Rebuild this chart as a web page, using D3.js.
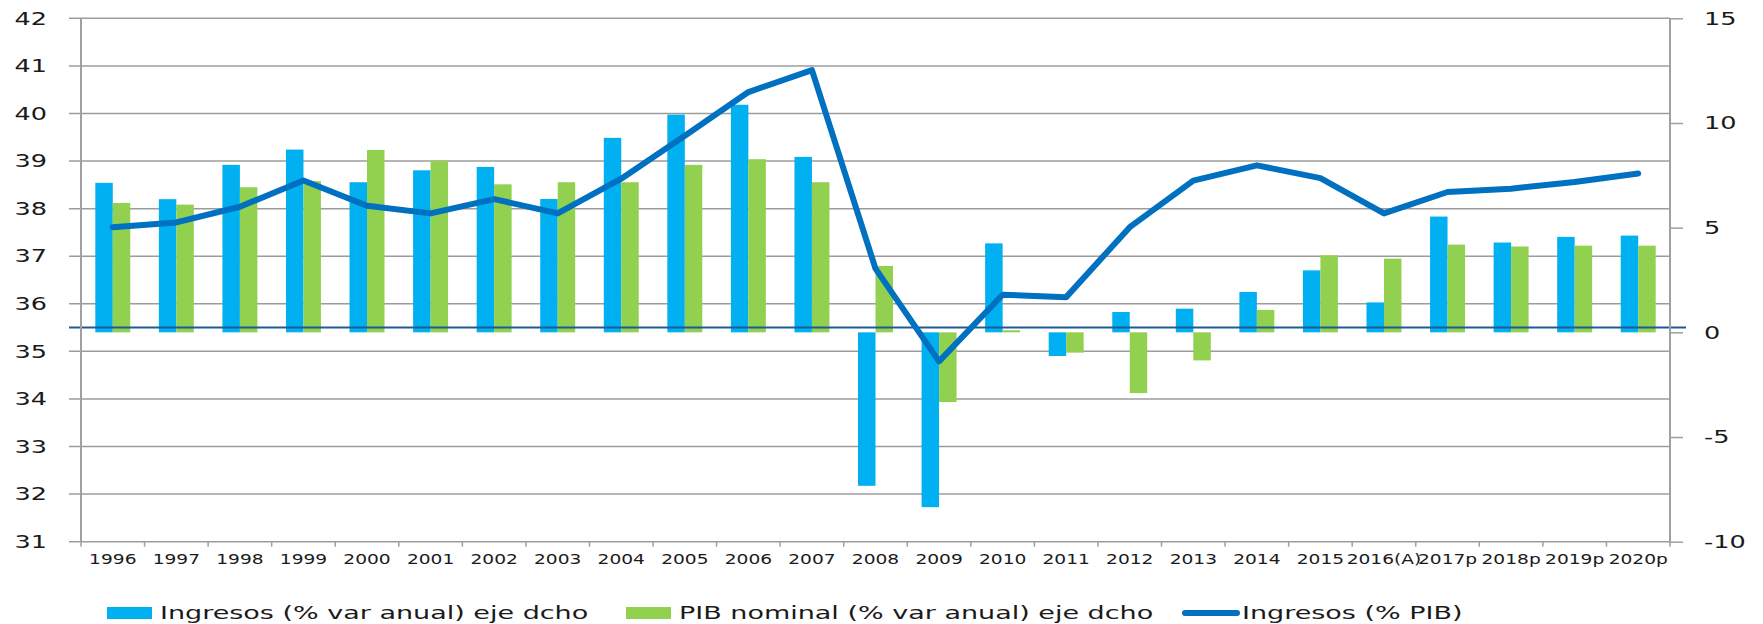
<!DOCTYPE html>
<head>
<meta charset="utf-8">
<style>
body{
    margin:0;
    background:#fff;
}
svg text{
    font-family:"DejaVu Sans", Verdana, sans-serif;
    fill:#1a1a1a;
}
</style>
<title>Ingresos y PIB nominal</title>
</head>
<body>
<svg id="chart" width="1763" height="624"></svg>
<script src="https://d3js.org/d3.v7.min.js"></script>
<script>
// categories on the x axis
var years = ['1996','1997','1998','1999','2000','2001','2002','2003','2004','2005',
    '2006','2007','2008','2009','2010','2011','2012','2013','2014','2015',
    '2016(A)','2017p','2018p','2019p','2020p'];

// Ingresos (% var anual) - right axis
var ingresosVar = [7.14, 6.36, 8.0, 8.73, 7.17, 7.74, 7.9, 6.37, 9.29, 10.4,
    10.87, 8.38, -7.33, -8.35, 4.25, -1.13, 0.97, 1.13, 1.93, 2.96,
    1.43, 5.53, 4.29, 4.56, 4.62];

// PIB nominal (% var anual) - right axis
var pibVar = [6.18, 6.1, 6.93, 7.22, 8.71, 8.2, 7.07, 7.17, 7.17, 8.0,
    8.27, 7.17, 3.17, -3.33, 0.1, -0.97, -2.9, -1.34, 1.07, 3.68,
    3.52, 4.19, 4.1, 4.14, 4.14];

// Ingresos (% PIB) - left axis
var ingresosPib = [37.61, 37.71, 38.04, 38.59, 38.06, 37.9, 38.2, 37.9, 38.63, 39.53,
    40.45, 40.91, 36.74, 34.79, 36.19, 36.14, 37.61, 38.59, 38.91, 38.64,
    37.9, 38.35, 38.42, 38.56, 38.74];

var leftTicks = [31,32,33,34,35,36,37,38,39,40,41,42];
var rightTicks = [-10,-5,0,5,10,15];
var legendNames = ['Ingresos (% var anual) eje dcho','PIB nominal (% var anual) eje dcho','Ingresos (% PIB)'];

var blue = '#00b0f0', green = '#92d050', lineBlue = '#0070c0';
var stretch = 1.42;   // the original text is drawn wide

var svg = d3.select('#chart');
var x0 = 81, x1 = 1670, yTop = 18.3, yBot = 541.7;

var x = d3.scaleBand().domain(years).range([x0, x1]).padding(0);
var yL = d3.scaleLinear().domain([31, 42]).range([yBot, yTop]);
var yR = d3.scaleLinear().domain([-10, 15]).range([yBot, yTop]);

// stretch a text horizontally about its own x
function widen(sel, k){
    sel.each(function(){
        var t = d3.select(this), tx = +t.attr('x') || 0;
        t.attr('transform', 'translate(' + tx + ',0) scale(' + k + ',1) translate(' + (-tx) + ',0)');
    });
}

// gridlines
svg.append('g').selectAll('line').data(leftTicks).enter().append('line')
    .attr('x1', 69).attr('x2', x1)
    .attr('y1', function(d){ return yL(d); }).attr('y2', function(d){ return yL(d); })
    .attr('stroke', '#9c9c9c').attr('stroke-width', 1.5);

// bars
var bw = x.bandwidth() * 0.275;
var bars = svg.append('g');
bars.selectAll('.b1').data(ingresosVar).enter().append('rect')
    .attr('x', function(d, i){ return x(years[i]) + x.bandwidth()/2 - bw; })
    .attr('y', function(d){ return yR(Math.max(0, d)); })
    .attr('width', bw)
    .attr('height', function(d){ return Math.abs(yR(d) - yR(0)); })
    .attr('fill', blue);
bars.selectAll('.b2').data(pibVar).enter().append('rect')
    .attr('x', function(d, i){ return x(years[i]) + x.bandwidth()/2; })
    .attr('y', function(d){ return yR(Math.max(0, d)); })
    .attr('width', bw)
    .attr('height', function(d){ return Math.abs(yR(d) - yR(0)); })
    .attr('fill', green);

// dark horizontal reference line
svg.append('line')
    .attr('x1', 69).attr('x2', 1686)
    .attr('y1', yL(35.5)).attr('y2', yL(35.5))
    .attr('stroke', '#1f5b96').attr('stroke-width', 2);

// axes lines
svg.append('line').attr('x1', x0).attr('x2', x0).attr('y1', yTop).attr('y2', yBot)
    .attr('stroke', '#a0a0a0').attr('stroke-width', 2);
svg.append('line').attr('x1', x1).attr('x2', x1).attr('y1', yTop).attr('y2', yBot)
    .attr('stroke', '#a0a0a0').attr('stroke-width', 2);

// left axis labels
var gL = svg.append('g').attr('transform', 'translate(' + x0 + ',0)')
    .call(d3.axisLeft(yL).tickValues(leftTicks).tickSize(0).tickPadding(34));
gL.select('.domain').remove();
gL.selectAll('text').attr('font-size', 18);
widen(gL.selectAll('text'), stretch);

// right axis (plain hyphen for negatives, as in the original)
var gR = svg.append('g').attr('transform', 'translate(' + x1 + ',0)')
    .call(d3.axisRight(yR).tickValues(rightTicks).tickSize(13).tickPadding(21)
        .tickFormat(function(d){ return String(d); }));
gR.select('.domain').remove();
gR.selectAll('line').attr('stroke', '#a0a0a0').attr('stroke-width', 1.5);
gR.selectAll('text').attr('font-size', 18);
widen(gR.selectAll('text'), stretch);

// x axis: category boundary ticks and labels
svg.append('g').selectAll('line').data(years.concat(['end'])).enter().append('line')
    .attr('x1', function(d, i){ return i < years.length ? x(d) : x1; })
    .attr('x2', function(d, i){ return i < years.length ? x(d) : x1; })
    .attr('y1', yBot).attr('y2', yBot + 5)
    .attr('stroke', '#a0a0a0').attr('stroke-width', 1.5);
var gX = svg.append('g').attr('transform', 'translate(0,' + yBot + ')')
    .call(d3.axisBottom(x).tickSize(0).tickPadding(13));
gX.select('.domain').remove();
gX.selectAll('text').attr('font-size', 13.5);
widen(gX.selectAll('text'), 1.38);

// Ingresos (% PIB) line
svg.append('path').datum(ingresosPib)
    .attr('d', d3.line()
        .x(function(d, i){ return x(years[i]) + x.bandwidth()/2; })
        .y(function(d){ return yL(d); }))
    .attr('fill', 'none').attr('stroke', lineBlue).attr('stroke-width', 6)
    .attr('stroke-linejoin', 'round').attr('stroke-linecap', 'round');

// legend
var ly = 613;
var leg = svg.append('g');
leg.append('rect').attr('x', 107).attr('y', ly - 6).attr('width', 45).attr('height', 12).attr('fill', blue);
leg.append('rect').attr('x', 626).attr('y', ly - 6).attr('width', 45).attr('height', 12).attr('fill', green);
leg.append('line').attr('x1', 1185).attr('x2', 1237).attr('y1', ly).attr('y2', ly)
    .attr('stroke', lineBlue).attr('stroke-width', 6).attr('stroke-linecap', 'round');
var lt = leg.selectAll('text').data(legendNames).enter().append('text')
    .attr('x', function(d, i){ return [160, 679, 1242][i]; })
    .attr('y', ly).attr('dy', '0.36em')
    .attr('font-size', 18)
    .text(function(d){ return d; });
widen(lt, 1.5);
</script>
</body>
